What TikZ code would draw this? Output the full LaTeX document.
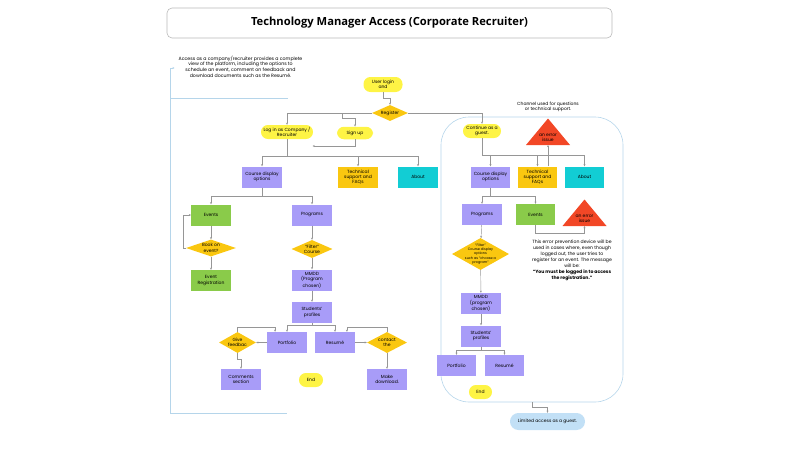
\documentclass[tikz,border=0pt]{standalone}
\usepackage{fontspec}
\setmainfont{Poppins}
\newfontfamily\headfont{Open Sans}
\usetikzlibrary{shapes.geometric,arrows.meta}

\definecolor{startyellow}{HTML}{FEF445}
\definecolor{decorange}{HTML}{FAC710}
\definecolor{progpurple}{HTML}{A89CF8}
\definecolor{evtgreen}{HTML}{8ACB4A}
\definecolor{aboutcyan}{HTML}{12CDD4}
\definecolor{errred}{HTML}{F24726}
\definecolor{limblue}{HTML}{C2E0F6}
\definecolor{panelblue}{HTML}{B5D5EA}
\definecolor{linegray}{HTML}{969696}

\begin{document}
\begin{tikzpicture}[x=1pt,y=-1pt,
    every node/.style={font=\fontsize{4.5}{5.3}\selectfont, align=center, inner sep=0.5pt},
    pill/.style={fill=startyellow, rounded corners=6.9pt, minimum height=14pt},
    box/.style={minimum width=39.5pt, minimum height=21pt},
    prog/.style={box, fill=progpurple},
    evt/.style={box, fill=evtgreen},
    help/.style={box, fill=decorange},
    info/.style={box, fill=aboutcyan},
    dia/.style={diamond, fill=decorange, inner sep=0pt},
    link/.style={draw=linegray, line width=0.45pt, -{Stealth[length=2.2pt,width=2pt]}},
    frame/.style={draw=panelblue, line width=0.6pt}]
    \useasboundingbox (0,0) rectangle (800,450);

    % Title
    \node[draw=gray!55, line width=0.6pt, rounded corners=5pt, minimum width=445pt, minimum height=30pt,
          font=\headfont\bfseries\fontsize{11.2}{13}\selectfont] (title) at (389.5,23)
          {Technology Manager Access (Corporate Recruiter)};

    % Company side frame and note
    \node[font=\fontsize{4.7}{5.6}\selectfont] (note1) at (240.5,66.5)
          {Access as a company/recruiter provides a complete\\view of the platform, including the options to\\schedule an event, comment on feedback and\\download documents such as the Resumé.};
    \draw[frame] (288,98) -- (170,98);
    \draw[frame] (170,68) -- (170,413) -- (287,413);
    \draw[frame, -{Stealth[length=2pt,width=2pt]}] (170,68) -- (174.5,68);

    % Guest panel
    \node[frame, rounded corners=28pt, minimum width=182pt, minimum height=285pt] (panel) at (532,259.5) {};

    % Entry
    \node[pill, minimum width=39pt, minimum height=15pt] (user) at (383,84.5) {User login\\and};
    \node[dia, minimum width=36pt, minimum height=16pt, label=center:Register] (reg) at (390,113) {};
    \node[pill, minimum width=52pt] (login) at (287,132) {Log in as Company /\\Recruiter};
    \node[pill, minimum width=36pt, minimum height=12.5pt] (signup) at (355,133) {Sign up};
    \node[pill, minimum width=38pt] (guest) at (482,131) {Continue as a\\guest.};

    % Company side
    \node[prog] (cd1) at (262,177) {Course display\\options};
    \node[help] (ts1) at (358,177) {Technical\\support and\\FAQs};
    \node[info] (ab1) at (418,177) {About};
    \node[evt] (ev1) at (211,215) {Events};
    \node[prog] (pr1) at (312,215) {Programs};
    \node[dia, minimum width=50pt, minimum height=17pt, label=center:{Book on\\event?}] (book) at (211,248) {};
    \node[dia, minimum width=41pt, minimum height=18pt, label=center:{"Filter"\\Course}] (fl1) at (312,249) {};
    \node[evt] (reg1) at (211,280.5) {Event\\Registration};
    \node[prog] (mm1) at (312,280) {MMDD\\(Program\\chosen)};
    \node[prog] (stu1) at (312,312.5) {Students’\\profiles};
    \node[prog] (pf1) at (287,342.5) {Portfolio};
    \node[prog] (rs1) at (335,342.5) {Resumé};
    \node[dia, minimum width=37pt, minimum height=21pt, label=center:{Give\\feedbac}] (gf) at (237.5,342.5) {};
    \node[dia, minimum width=40pt, minimum height=21pt, label=center:{contact\\the}] (ct) at (387,342.5) {};
    \node[prog] (cm1) at (241,379.5) {Comments\\section};
    \node[prog] (md1) at (387,379.5) {Make\\download.};
    \node[pill, minimum width=24pt] (end1) at (311,380) {End};

    % Guest side
    \node (chan) at (548,107) {Channel used for questions\\or technical support.};
    \node[prog] (cd2) at (490.5,177) {Course display\\options};
    \node[help] (ts2) at (537.5,177) {Technical\\support and\\FAQs};
    \node[info] (ab2) at (584.5,177) {About};
    \node[prog] (pr2) at (482,214.5) {Programs};
    \node[evt] (ev2) at (535.5,214.5) {Events};
    \foreach \n/\x/\y in {err1/548/145, err2/584.5/226} {
        \fill[errred] (\x-22,\y) -- (\x,\y-26.5) -- (\x+22,\y) -- cycle;
        \coordinate (\n b) at (\x,\y);
    }
    \node (err1) at (548,138) {an error\\issue};
    \node (err2) at (584.5,219) {an error\\issue};
    \node[dia, minimum width=57pt, minimum height=32pt,
          label={[font=\fontsize{3.4}{4.2}\selectfont]center:{"Filter"\\Course display\\options\\such as "choose a\\program"}}] (fl2) at (480.5,254) {};
    \node[prog] (mm2) at (481,303.5) {MMDD\\(program\\chosen)};
    \node[prog] (stu2) at (481,336) {Students’\\profiles};
    \node[prog] (pf2) at (456.5,365.5) {Portfolio};
    \node[prog] (rs2) at (504.5,365.5) {Resumé};
    \node[pill, minimum width=23pt] (end2) at (480.5,392) {End};
    \node[pill, fill=limblue, minimum width=75pt, minimum height=17pt, rounded corners=8.4pt] (lim) at (547.5,421.5) {Limited access as a guest.};
    \node[font=\fontsize{4.6}{6}\selectfont] (warn) at (572,260)
          {This error prevention device will be\\used in cases where, even though\\logged out, the user tries to\\register for an event. The message\\will be:\\\textbf{“You must be logged in to access}\\\textbf{the registration.”}};

    % Entry connectors
    \draw[link] (user.south) -- ++(0,6) -| (reg.north);
    \draw[link] (reg.west) -| (login.north);
    \draw[link] (reg.west) -- ++(-30,0) -- ++(0,5) -| (signup.north);
    \draw[link] (reg.east) -| (guest.north);
    \coordinate (signend) at (312.5,146);
    \draw[link] (signup.south) |- (signend);

    % Company connectors
    \foreach \t in {cd1,ts1,ab1}
        \draw[link] (login.south) -- ++(0,17) -| (\t.north);
    \foreach \t in {ev1,pr1}
        \draw[link] (cd1.south) -- ++(0,9) -| (\t.north);
    \draw[link] (ev1) -- (book);
    \draw[link] (book) -- (reg1);
    \draw[link] (book.west) -- ++(-3,0) |- (ev1.west);
    \draw[link] (pr1) -- (fl1);
    \draw[link] (fl1) -- (mm1);
    \draw[link] (mm1) -- (stu1);
    \foreach \t in {pf1,rs1}
        \draw[link] (stu1.south) -- ++(0,2.5) -| (\t.north);
    \draw[link] (pf1) -- (gf);
    \draw[link] (gf.north) -- ++(0,-5) -| ([xshift=8pt]pf1.north west);
    \draw[link] (rs1) -- (ct);
    \draw[link] (ct.north) -- ++(0,-5) -| ([xshift=-8pt]rs1.north east);
    \draw[link] (gf.south) -- ++(0,6) -| (cm1.north);
    \draw[link] (ct) -- (md1);

    % Guest connectors
    \foreach \t in {cd2,ts2,ab2}
        \draw[link] (guest.south) -- ++(0,17) -| (\t.north);
    \draw[link] ([xshift=10.5pt]ts2.north) -- (err1b);
    \foreach \t in {pr2,ev2}
        \draw[link] (cd2.south) -- ++(0,9) -| (\t.north);
    \draw[link] (ev2.south) -- ++(0,8) -| (err2b);
    \draw[link] (pr2) -- (fl2);
    \draw[link] (fl2) -- (mm2);
    \draw[link] (mm2) -- (stu2);
    \foreach \t in {pf2,rs2}
        \draw[link] (stu2.south) -- ++(0,4) -| (\t.north);
    \draw[link] (panel.south) -- ++(0,5) -| (lim.north);
\end{tikzpicture}
\end{document}
